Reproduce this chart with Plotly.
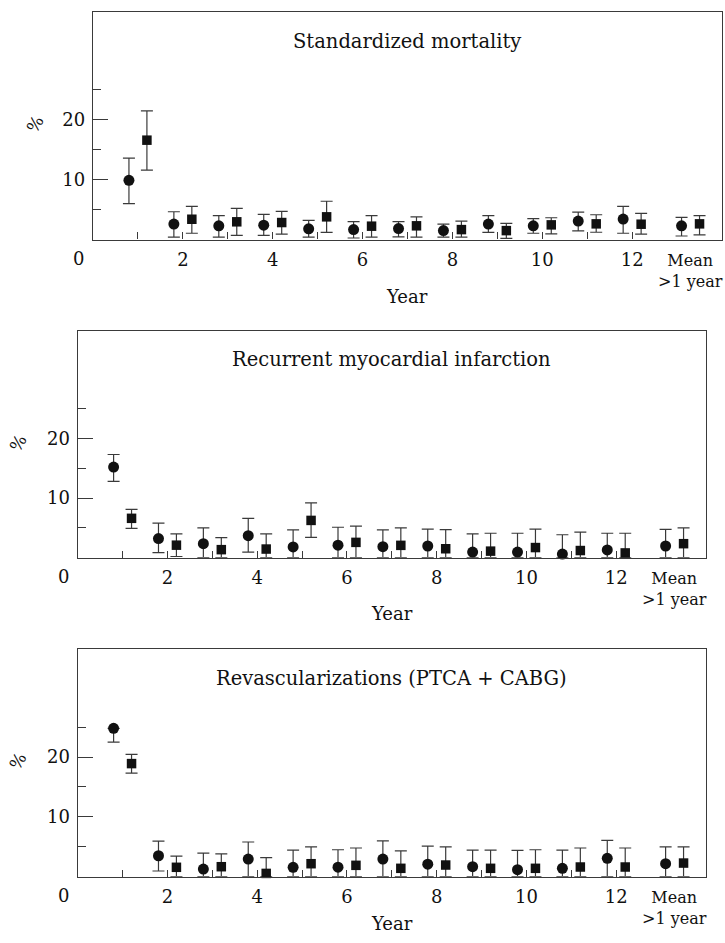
import plotly.graph_objects as go

# ---------------- data ----------------
year_labels = ["1", "2", "3", "4", "5", "6", "7", "8", "9", "10", "11", "12", "Mean >1 year"]
year_pos = [1, 2, 3, 4, 5, 6, 7, 8, 9, 10, 11, 12, 13.3]
x_tick_vals = [1, 2, 3, 4, 5, 6, 7, 8, 9, 10, 11, 12]
x_tick_text = ["", "2", "", "4", "", "6", "", "8", "", "10", "", "12"]
y_major_ticks = [10, 20]
y_minor_ticks = [5, 15, 25]

panel_titles = ["Standardized mortality",
                "Recurrent myocardial infarction",
                "Revascularizations (PTCA + CABG)"]

# Panel 1: standardized mortality
p1_circ_val = [9.9, 2.6, 2.3, 2.4, 1.8, 1.67, 1.84, 1.5, 2.6, 2.3, 3.1, 3.42, 2.3]
p1_circ_lo = [6.0, 0.4, 0.4, 0.72, 0.4, 0.27, 0.44, 0.4, 1.2, 1.06, 1.45, 1.06, 0.6]
p1_circ_hi = [13.6, 4.65, 4.0, 4.2, 3.2, 3.0, 3.0, 2.6, 4.0, 3.5, 4.6, 5.55, 3.7]
p1_sq_val = [16.6, 3.4, 2.97, 2.85, 3.8, 2.24, 2.3, 1.67, 1.5, 2.46, 2.63, 2.57, 2.63]
p1_sq_lo = [11.6, 1.06, 0.72, 0.9, 1.2, 0.4, 0.4, 0.4, 0.2, 0.95, 1.23, 0.9, 0.78]
p1_sq_hi = [21.5, 5.55, 5.2, 4.7, 6.4, 4.0, 3.8, 3.1, 2.7, 3.65, 4.15, 4.37, 4.0]

# Panel 2: recurrent myocardial infarction
p2_circ_val = [15.2, 3.2, 2.35, 3.7, 1.8, 2.1, 1.85, 1.96, 0.95, 0.95, 0.6, 1.3, 1.96]
p2_circ_lo = [12.8, 0.85, 0, 0.95, 0, 0, 0, 0, 0, 0, 0, 0, 0]
p2_circ_hi = [17.3, 5.8, 5.0, 6.6, 4.65, 5.1, 4.65, 4.8, 4.0, 4.1, 3.85, 4.1, 4.75]
p2_sq_val = [6.6, 2.1, 1.35, 1.45, 6.25, 2.57, 2.07, 1.5, 1.1, 1.7, 1.2, 0.8, 2.35]
p2_sq_lo = [4.9, 0.2, 0, 0, 3.4, 0, 0, 0, 0, 0, 0, 0, 0]
p2_sq_hi = [8.1, 4.0, 3.35, 4.0, 9.2, 5.3, 5.0, 4.7, 4.1, 4.8, 4.3, 4.1, 5.0]

# Panel 3: revascularizations
p3_circ_val = [24.8, 3.5, 1.28, 2.95, 1.57, 1.6, 2.95, 2.1, 1.67, 1.17, 1.4, 3.07, 2.17]
p3_circ_lo = [22.5, 0.95, 0, 0, 0, 0, 0, 0, 0, 0, 0, 0, 0]
p3_circ_hi = [24.8, 5.95, 3.95, 5.8, 4.45, 4.5, 6.0, 5.1, 4.45, 4.4, 4.45, 6.07, 5.0]
p3_sq_val = [18.9, 1.57, 1.67, 0.55, 2.17, 1.9, 1.4, 1.95, 1.4, 1.4, 1.62, 1.62, 2.28]
p3_sq_lo = [17.3, 0, 0, 0, 0, 0, 0, 0, 0, 0, 0, 0, 0]
p3_sq_hi = [20.45, 3.45, 3.83, 3.2, 5.0, 4.8, 4.33, 5.0, 4.45, 4.5, 4.8, 4.8, 5.0]

panels = [
    (p1_circ_val, p1_circ_lo, p1_circ_hi, p1_sq_val, p1_sq_lo, p1_sq_hi),
    (p2_circ_val, p2_circ_lo, p2_circ_hi, p2_sq_val, p2_sq_lo, p2_sq_hi),
    (p3_circ_val, p3_circ_lo, p3_circ_hi, p3_sq_val, p3_sq_lo, p3_sq_hi),
]

# ---------------- styling / layout ----------------
W, H = 725, 943
FONT = "DejaVu Serif"
INK = "#111111"
LINE = "#3a3a3a"
OFFSET = 0.2

# pixel boxes of each panel: (left, right, top, bottom)
boxes = [(93, 722, 12, 239.6), (77.7, 706, 331, 557.7), (77.7, 706, 649.3, 876.7)]
year_label_y = [297, 613, 923]
pct_x = [35, 18, 18]

fig = go.Figure()
annotations = []

for i, (cv, clo, chi, sv, slo, shi) in enumerate(panels):
    n = "" if i == 0 else str(i + 1)
    xa, ya = "x" + n, "y" + n
    cx = [p - OFFSET for p in year_pos]
    sx = [p + OFFSET for p in year_pos]
    for xs, val, lo, hi, sym, sz in [(cx, cv, clo, chi, "circle", 11),
                                     (sx, sv, slo, shi, "square", 9.5)]:
        fig.add_trace(go.Scatter(
            x=xs, y=val, mode="markers", xaxis=xa, yaxis=ya,
            marker=dict(symbol=sym, size=sz, color=INK, line=dict(width=0)),
            error_y=dict(type="data", symmetric=False,
                         array=[h - v for h, v in zip(hi, val)],
                         arrayminus=[v - l for v, l in zip(val, lo)],
                         color=LINE, thickness=1.2, width=6),
            text=year_labels, showlegend=False, cliponaxis=False,
        ))

    L, R, T, B = boxes[i]
    xdom = [L / W, R / W]
    ydom = [1 - B / H, 1 - T / H]
    axis_common = dict(showline=True, linecolor=LINE, linewidth=1.3, mirror=True,
                       showgrid=False, zeroline=False, ticks="inside",
                       tickcolor=LINE, tickwidth=1.2, automargin=False,
                       tickfont=dict(family=FONT, size=18, color=INK))
    fig.layout["xaxis" + n] = dict(
        domain=xdom, range=[0, 14], anchor=ya, tickmode="array",
        tickvals=x_tick_vals, ticktext=x_tick_text, ticklen=7,
        ticklabelstandoff=4,
        **axis_common)
    fig.layout["yaxis" + n] = dict(
        domain=ydom, range=[0, 38], anchor=xa, tickmode="array",
        tickvals=y_major_ticks, ticktext=[str(v) for v in y_major_ticks], ticklen=15,
        ticklabelstandoff=3,
        minor=dict(tickmode="array", tickvals=y_minor_ticks, ticks="inside",
                   ticklen=8, tickcolor=LINE, tickwidth=1.2),
        **axis_common)

    # panel title
    annotations.append(dict(text=panel_titles[i], xref=xa + " domain", yref=ya + " domain",
                            x=0.5, y=1 - 29 / (B - T), xanchor="center", yanchor="middle",
                            showarrow=False, font=dict(family=FONT, size=19.5, color=INK)))
    # x axis title "Year"
    annotations.append(dict(text="Year", xref=xa + " domain", yref="paper",
                            x=0.5, y=1 - year_label_y[i] / H, xanchor="center", yanchor="middle",
                            showarrow=False, font=dict(family=FONT, size=18, color=INK)))
    # origin "0"
    annotations.append(dict(text="0", xref="paper", yref="paper",
                            x=(L - 7) / W, y=1 - (B + 19) / H, xanchor="right", yanchor="middle",
                            showarrow=False, font=dict(family=FONT, size=18, color=INK)))
    # Mean >1 year label
    annotations.append(dict(text="Mean<br>>1 year", xref=xa, yref="paper",
                            x=year_pos[-1], y=1 - (B + 9) / H, xanchor="center", yanchor="top",
                            showarrow=False, align="center",
                            font=dict(family=FONT, size=16, color=INK)))
    # y axis "%" label
    annotations.append(dict(text="%", xref="paper", yref="paper",
                            x=pct_x[i] / W, y=1 - (T + 112) / H,
                            xanchor="center", yanchor="middle", textangle=-60,
                            showarrow=False, font=dict(family=FONT, size=17, color=INK)))

fig.update_layout(width=W, height=H, margin=dict(l=0, r=0, t=0, b=0),
                  paper_bgcolor="white", plot_bgcolor="white",
                  annotations=annotations, showlegend=False)

fig.write_html("out.html", config={"displayModeBar": False},
               post_script="document.body.style.margin='0';document.body.style.overflow='hidden';")
